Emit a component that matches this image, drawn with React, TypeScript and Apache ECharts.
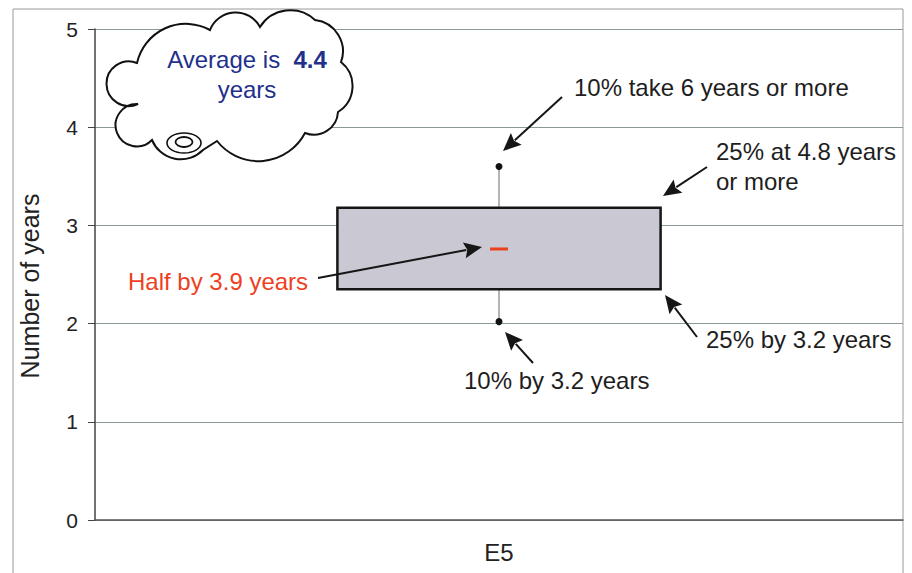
import React, { useEffect, useRef } from "react";
import * as echarts from "echarts";

// ---- data ----
const categories = ["E5"];
const lowerDecile = [2.02];
const lowerQuartile = [2.35];
const medianValues = [2.76];
const upperQuartile = [3.18];
const upperDecile = [3.6];
const yMin = 0;
const yMax = 5;
const yInterval = 1;

const annotationTexts = [
  "10% take 6 years or more",
  "25% at 4.8 years",
  "or more",
  "Half by 3.9 years",
  "25% by 3.2 years",
  "10% by 3.2 years",
];
const cloudLine1 = "Average is  ";
const cloudValue = "4.4";
const cloudLine2 = "years";
const yAxisName = "Number of years";

const FONT = "'Liberation Sans', Arial, Helvetica, sans-serif";

// ---- cloud outline (decoration) ----
function lobe(ax: number, ay: number, bx: number, by: number, h: number) {
  const c = Math.hypot(bx - ax, by - ay);
  const r = (c * c / 4 + h * h) / (2 * h);
  const large = h > c / 2 ? 1 : 0;
  return ` A ${r.toFixed(2)} ${r.toFixed(2)} 0 ${large} 1 ${bx} ${by}`;
}
const cloudPts: [number, number, number][] = [
  [137, 63, 31],
  [210, 30, 20],
  [260, 27, 16],
  [315, 20, 13],
  [341, 62, 12],
  [338, 112, 13],
  [305, 133, 10],
  [217, 141, 24],
];
let cloudD = "M 138 104";
{
  let px = 138, py = 104;
  for (const [x, y, h] of cloudPts) {
    cloudD += lobe(px, py, x, y, h);
    px = x; py = y;
  }
  cloudD += " L 203 150";
  cloudD += lobe(203, 150, 152, 140, 14);
  cloudD += lobe(152, 140, 138, 104, 30);
  cloudD += " Z";
}
const CloudShape = (echarts as any).graphic.extendPath(cloudD, {});
(echarts as any).graphic.registerShape("cloudShape", CloudShape);

function arrow(x1: number, y1: number, x2: number, y2: number) {
  const dx = x2 - x1, dy = y2 - y1;
  const len = Math.hypot(dx, dy);
  const ux = dx / len, uy = dy / len;
  const headLen = 18, hw = 8;
  const bx = x2 - ux * headLen, by = y2 - uy * headLen;
  const px = -uy, py = ux;
  return [
    {
      type: "line",
      z: 100,
      silent: true,
      shape: { x1, y1, x2: bx + ux * 2, y2: by + uy * 2 },
      style: { stroke: "#161616", lineWidth: 2 },
    },
    {
      type: "polygon",
      z: 100,
      silent: true,
      shape: {
        points: [
          [x2, y2],
          [bx + px * hw, by + py * hw],
          [bx + ux * 3, by + uy * 3],
          [bx - px * hw, by - py * hw],
        ],
      },
      style: { fill: "#161616" },
    },
  ];
}

function txt(text: string, x: number, y: number, fill = "#1e1e1e") {
  return {
    type: "text",
    z: 100,
    silent: true,
    x,
    y,
    style: {
      text,
      fill,
      fontSize: 24,
      fontFamily: FONT,
      align: "left",
      verticalAlign: "middle",
    },
  };
}

export default function App() {
  const ref = useRef<HTMLDivElement>(null);

  useEffect(() => {
    document.body.style.margin = "0";
    const chart = echarts.init(ref.current as HTMLDivElement, null, { renderer: "svg" });

    const seriesData = categories.map((_, i) => [
      i,
      lowerDecile[i],
      lowerQuartile[i],
      medianValues[i],
      upperQuartile[i],
      upperDecile[i],
    ]);

    const option: any = {
      animation: false,
      backgroundColor: "#ffffff",
      grid: { left: 95, right: 9, top: 29, bottom: 53, containLabel: false, outerBoundsMode: "none" },
      xAxis: {
        type: "category",
        data: categories,
        axisLine: { show: true, lineStyle: { color: "#555", width: 1.5 } },
        axisTick: { show: false },
        axisLabel: { fontSize: 24, color: "#222", fontFamily: FONT, margin: 20 },
        splitLine: { show: false },
      },
      yAxis: {
        type: "value",
        min: yMin,
        max: yMax,
        interval: yInterval,
        axisLine: { show: true, lineStyle: { color: "#444", width: 1.5 } },
        axisTick: { show: true, length: 7, lineStyle: { color: "#444", width: 1 } },
        axisLabel: { fontSize: 21, color: "#222", fontFamily: FONT, margin: 17 },
        splitLine: { show: true, lineStyle: { color: "#8a9a99", width: 1 } },
      },
      series: [
        {
          type: "custom",
          data: seriesData,
          encode: { x: 0, y: [1, 2, 3, 4, 5] },
          z: 5,
          renderItem: (params: any, api: any) => {
            const xi = api.value(0);
            const pLow = api.coord([xi, api.value(1)]);
            const pQ1 = api.coord([xi, api.value(2)]);
            const pMed = api.coord([xi, api.value(3)]);
            const pQ3 = api.coord([xi, api.value(4)]);
            const pHigh = api.coord([xi, api.value(5)]);
            const bw = api.size([1, 0])[0] * 0.4;
            return {
              type: "group",
              children: [
                { type: "line", shape: { x1: pHigh[0], y1: pHigh[1], x2: pQ3[0], y2: pQ3[1] }, style: { stroke: "#6a6a6a", lineWidth: 1 } },
                { type: "line", shape: { x1: pQ1[0], y1: pQ1[1], x2: pLow[0], y2: pLow[1] }, style: { stroke: "#6a6a6a", lineWidth: 1 } },
                {
                  type: "rect",
                  shape: { x: pQ3[0] - bw / 2, y: pQ3[1], width: bw, height: pQ1[1] - pQ3[1] },
                  style: { fill: "#cac8d2", stroke: "#161616", lineWidth: 2.5 },
                },
                { type: "line", shape: { x1: pMed[0] - 9, y1: pMed[1], x2: pMed[0] + 9, y2: pMed[1] }, style: { stroke: "#e8431c", lineWidth: 3 } },
                { type: "circle", shape: { cx: pHigh[0], cy: pHigh[1], r: 3.5 }, style: { fill: "#111" } },
                { type: "circle", shape: { cx: pLow[0], cy: pLow[1], r: 3.5 }, style: { fill: "#111" } },
              ],
            };
          },
        },
      ],
      graphic: [
        {
          type: "rect",
          silent: true,
          z: 0,
          shape: { x: 13, y: 9, width: 890, height: 600 },
          style: { fill: "none", stroke: "#9a9a9a", lineWidth: 1 },
        },
        {
          type: "cloudShape",
          silent: true,
          z: 90,
          style: { fill: "#ffffff", stroke: "#111", lineWidth: 2 },
        },
        { type: "ellipse", silent: true, z: 91, shape: { cx: 184, cy: 143, rx: 17, ry: 10 }, style: { fill: "#fff", stroke: "#111", lineWidth: 1.6 } },
        { type: "ellipse", silent: true, z: 92, shape: { cx: 184, cy: 142, rx: 8.5, ry: 5 }, style: { fill: "#fff", stroke: "#111", lineWidth: 1.8 } },
        {
          type: "text",
          silent: true,
          z: 100,
          x: 247,
          y: 59,
          style: {
            text: `{a|${cloudLine1}}{b|${cloudValue}}`,
            align: "center",
            verticalAlign: "middle",
            rich: {
              a: { fontSize: 24, fill: "#22308c", fontFamily: FONT },
              b: { fontSize: 24, fill: "#22308c", fontFamily: FONT, fontWeight: "bold" },
            },
          },
        },
        {
          type: "text",
          silent: true,
          z: 100,
          x: 247,
          y: 89,
          style: { text: cloudLine2, fill: "#22308c", fontSize: 24, fontFamily: FONT, align: "center", verticalAlign: "middle" },
        },
        {
          type: "text",
          silent: true,
          z: 100,
          x: 30,
          y: 286,
          rotation: Math.PI / 2,
          style: { text: yAxisName, fill: "#222", fontSize: 25, fontFamily: FONT, align: "center", verticalAlign: "middle" },
        },
        txt(annotationTexts[0], 574, 87),
        txt(annotationTexts[1], 716, 151),
        txt(annotationTexts[2], 716, 181),
        txt(annotationTexts[3], 128, 281, "#ee3f1f"),
        txt(annotationTexts[4], 706, 339),
        txt(annotationTexts[5], 464, 380),
        ...arrow(562, 97, 503, 151),
        ...arrow(707, 167, 663, 196),
        ...arrow(318, 278, 482, 247),
        ...arrow(697, 337, 665, 295),
        ...arrow(533, 363, 505, 332),
      ],
    };

    chart.setOption(option);
    return () => chart.dispose();
  }, []);

  return <div ref={ref} style={{ width: 912, height: 573, position: "absolute", left: 0, top: 0 }} />;
}
